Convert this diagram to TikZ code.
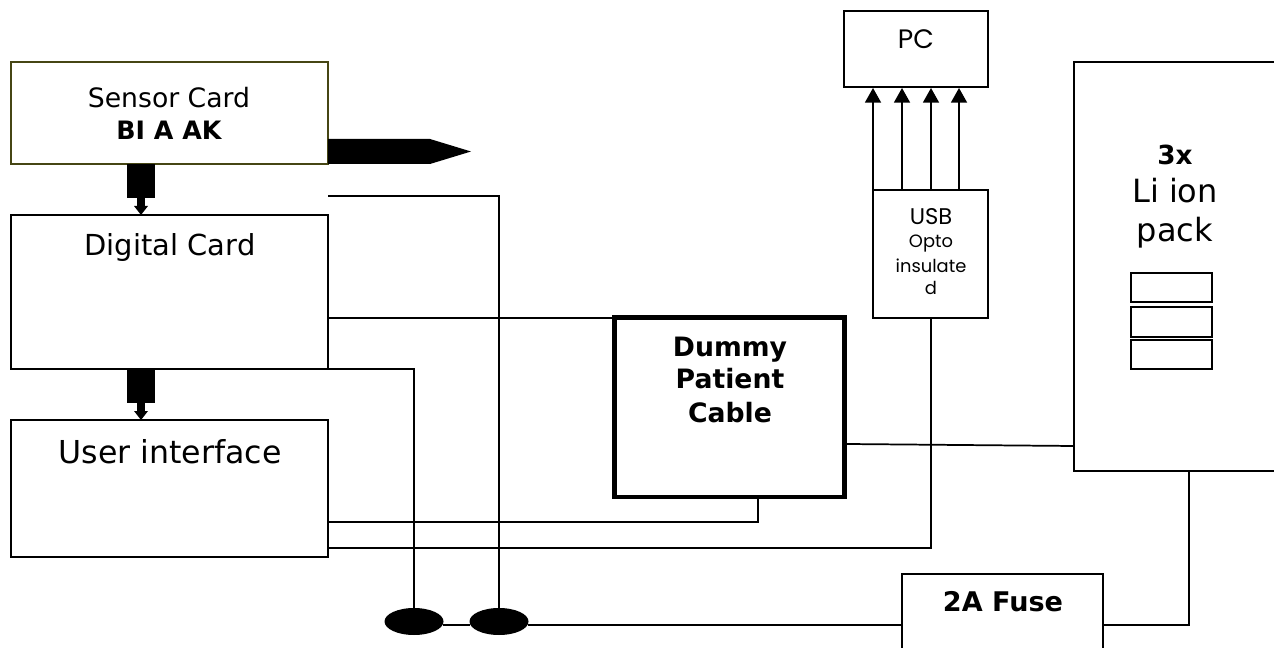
\documentclass[tikz,border=0pt]{standalone}
\usepackage{fontspec}
\setmainfont{DejaVu Sans}
\newfontfamily\gothic{Poppins}
\usetikzlibrary{arrows.meta,shapes.geometric}
\tikzset{
  x=0.75pt,y=-0.75pt,
  boxa/.style={draw=black,line width=1.3pt,fill=white,inner sep=0pt,outer sep=0pt,anchor=north west},
  wire/.style={draw=black,line width=1.3pt},
  blob/.style={draw=none,fill=black},
  up/.style={wire,-{Triangle[length=11pt,width=12pt]}},
  lab/.style={align=center,anchor=base,inner sep=0pt},
}
\begin{document}
\begin{tikzpicture}
\useasboundingbox (0,0) rectangle (1274,648);
\fill[white] (0,0) rectangle (1274,648);
\node[boxa,draw={rgb,255:red,70;green,70;blue,20},minimum width=237.75pt,minimum height=76.5pt] (sensor) at (11,62) {};
\node[boxa,minimum width=237.75pt,minimum height=115.5pt] (digital) at (11,215) {};
\node[boxa,minimum width=237.75pt,minimum height=102.75pt] (ui) at (11,420) {};
\node[boxa,line width=3.5pt,minimum width=172.5pt,minimum height=134.6pt] (dummy) at (614.5,317.5) {};
\node[boxa,minimum width=108pt,minimum height=57pt] (pc) at (844,11) {};
\node[boxa,minimum width=86.25pt,minimum height=96pt] (usb) at (873,190) {};
\node[boxa,minimum width=154.5pt,minimum height=306.75pt] (batt) at (1074,62) {};
\node[boxa,minimum width=60.75pt,minimum height=21.75pt] (c1) at (1131,273) {};
\node[boxa,minimum width=60.75pt,minimum height=22.5pt] (c2) at (1131,307) {};
\node[boxa,minimum width=60.75pt,minimum height=21.75pt] (c3) at (1131,340) {};
\node[boxa,line width=1.6pt,minimum width=150.75pt,minimum height=64.5pt] (fuse) at (902,574) {};
\node[blob,ellipse,minimum width=44.25pt,minimum height=20.25pt,inner sep=0pt] (e1) at (414,621.5) {};
\node[blob,ellipse,minimum width=44.25pt,minimum height=20.25pt,inner sep=0pt] (e2) at (499,621.5) {};
\node[lab] (t1a) at (169,108) {\fontsize{20}{24}\selectfont Sensor Card};
\node[lab] (t1b) at (169,140) {\fontsize{19}{24}\selectfont\bfseries BI A AK};
\node[lab,font=\fontsize{21.7}{26}\selectfont] (t2) at (170,256) {Digital Card};
\node[lab,font=\fontsize{23.7}{28}\selectfont] (t3) at (170,463) {User interface};
\node[lab,font=\bfseries\fontsize{20}{24}\selectfont] (t4a) at (730,357) {Dummy};
\node[lab,font=\bfseries\fontsize{20}{24}\selectfont] (t4b) at (730,388) {Patient};
\node[lab,font=\bfseries\fontsize{20}{24}\selectfont] (t4c) at (730,422) {Cable};
\node[lab,font=\gothic\fontsize{20}{24}\selectfont] (t5) at (916,49) {PC};
\node[lab,font=\gothic\fontsize{17}{20}\selectfont] (t6a) at (931,225) {USB};
\node[lab,font=\gothic\fontsize{13.4}{16}\selectfont] (t6b) at (931,248) {Opto};
\node[lab,font=\gothic\fontsize{13.4}{16}\selectfont] (t6c) at (931,273) {insulate};
\node[lab,font=\gothic\fontsize{13.4}{16}\selectfont] (t6d) at (931,295) {d};
\node[lab,font=\bfseries\fontsize{19.7}{24}\selectfont] (t7a) at (1175,165) {3x};
\node[lab,font=\fontsize{24}{28}\selectfont] (t7b) at (1175,203) {Li ion};
\node[lab,font=\fontsize{24}{28}\selectfont] (t7c) at (1175,242) {pack};
\node[lab,font=\bfseries\fontsize{20.3}{24}\selectfont] (t8) at (1003,611) {2A Fuse};
% thick connectors
\fill (127,164) rectangle (155,198);
\fill (137,198) rectangle (145,207);
\fill (134,206) -- (148,206) -- (141,215) -- cycle;
\fill (127,369) rectangle (155,403);
\fill (137,403) rectangle (145,412);
\fill (134,411) -- (148,411) -- (141,420) -- cycle;
\fill (328,139) -- (430,139) -- (471,151.5) -- (430,164) -- (328,164) -- cycle;
% wires
\draw[wire] (328,196) -- (499,196) -- (e2.north);
\draw[wire] (328,318) -- (612,318);
\draw[wire] (328,369) -- (414,369) -- (e1.north);
\draw[wire] (328,522) -- (758,522) -- (758,499);
\draw[wire] (328,548) -- (931,548) -- (931,318);
\draw[wire] (847,444) -- (1074,446);
\draw[wire] (1189,471) -- (1189,625) -- (1103,625);
\draw[wire] (443,625) -- (470,625);
\draw[wire] (528,625) -- (902,625);
\foreach \x in {873,902,931,959}{
  \draw[up] (\x,190) -- (\x,88);
}
\end{tikzpicture}
\end{document}
